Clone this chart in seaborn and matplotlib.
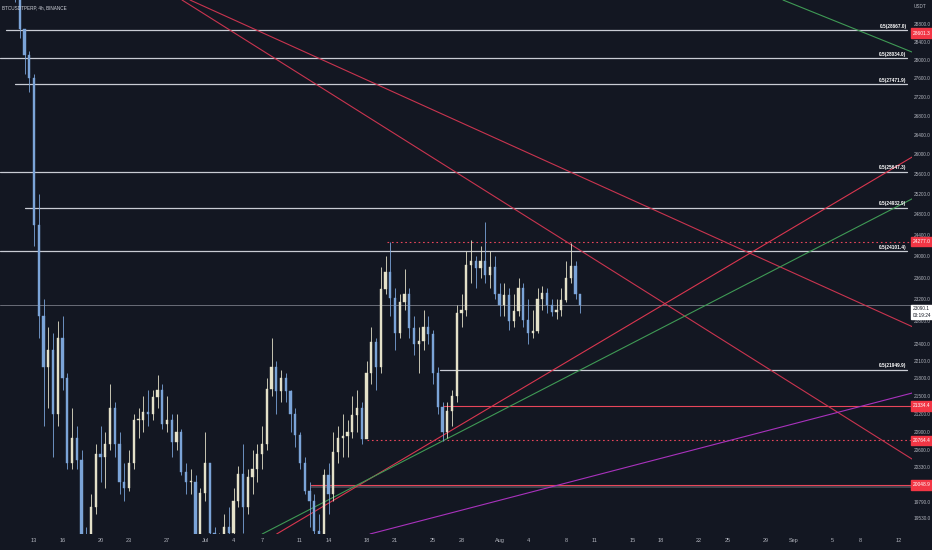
import numpy as np
import matplotlib
matplotlib.use("Agg")
import matplotlib.pyplot as plt
import matplotlib.transforms as mtransforms
from matplotlib.ticker import NullLocator
import seaborn as sns

# ---------------- data ----------------
# 12h candles; day numbers counted from 1 Jun 2022 = 0 (13 Jun = 12, 1 Jul = 30, 1 Aug = 61, 1 Sep = 92)
first_day = 9.0
first_open = 30100
closes = [30050, 29850, 29500, 28700, 28100, 27600, 24600, 22900, 22000, 22300,
          21200, 22500, 21800, 20400, 20800, 20450, 19200, 19000, 19700, 20550,
          20500, 20700, 21300, 20700, 20100, 20000, 20400, 21100, 21100, 21230,
          21200, 21490, 21600, 21030, 21100, 20730, 20900, 20250, 20100, 20100,
          19000, 19930, 20400, 19300, 19100, 19240, 19400, 19300, 19800, 20230,
          19700, 20170, 20300, 20550, 20700, 21620, 22000, 21590, 21800, 21590,
          21200, 20850, 20400, 19960, 19800, 19330, 19200, 20210, 19900, 20570,
          20800, 20830, 20900, 21190, 21300, 20780, 21900, 22430, 22000, 23390,
          23700, 23220, 22600, 23150, 23300, 22680, 22400, 22450, 22700, 22580,
          21900, 21310, 20900, 21250, 21500, 22950, 23000, 23840, 23900, 23780,
          23900, 23640, 23800, 23300, 23100, 23270, 22800, 22980, 23400, 22820,
          22600, 22620, 23200, 23310, 23100, 22960, 23000, 23180, 23600, 23810,
          23300, 23090]
highs = [30300, 30250, 29950, 29300, 28700, 28200, 27700, 25200, 23200, 22700,
         22600, 22800, 22900, 21900, 21300, 21000, 20600, 19400, 19900, 20700,
         21000, 20900, 21700, 21400, 20900, 20400, 20600, 21200, 21300, 21500,
         21600, 21600, 21860, 21700, 21500, 21200, 21200, 20950, 20400, 20300,
         20200, 20000, 20900, 20400, 19400, 19300, 19600, 19700, 20000, 20350,
         20700, 20300, 20600, 20700, 21000, 21800, 22500, 22100, 21950, 21900,
         21600, 21300, 20900, 20500, 20100, 19900, 19600, 20300, 20400, 20900,
         21000, 21200, 21100, 21500, 21600, 21400, 22100, 22700, 22500, 23800,
         24000, 24277, 23400, 23300, 23750, 23400, 22900, 22700, 23000, 22900,
         22650, 22000, 21400, 21400, 21600, 23100, 23300, 24100, 24300, 24000,
         24200, 24650, 24100, 24000, 23500, 23500, 23400, 23300, 23600, 23500,
         23200, 23000, 23400, 23450, 23400, 23200, 23200, 23400, 23900, 24250,
         23900, 23300]
lows = [29900, 29700, 29300, 28500, 27700, 27300, 24200, 22500, 21000, 21300,
        20500, 21000, 21600, 20300, 20300, 20300, 18900, 17600, 18600, 19600,
        20100, 20000, 20600, 20500, 19900, 19800, 19950, 20300, 20800, 20900,
        21000, 21100, 21300, 20950, 20900, 20500, 20600, 20200, 19900, 19900,
        18600, 18800, 19800, 19000, 18950, 19000, 18750, 19200, 19050, 19700,
        19300, 19600, 19900, 20100, 20300, 20600, 21500, 21200, 21400, 21400,
        20900, 20650, 20300, 19900, 19400, 19250, 18900, 19100, 19600, 19800,
        20400, 20500, 20500, 20800, 20900, 20700, 20800, 21700, 21600, 21900,
        23300, 22900, 22300, 22500, 23000, 22500, 22200, 21900, 22300, 22400,
        21700, 21200, 20760, 20800, 21000, 21400, 22700, 22900, 23500, 23400,
        23600, 23500, 23400, 23200, 22900, 22900, 22650, 22700, 22900, 22700,
        22400, 22500, 22600, 23000, 22950, 22900, 22850, 22900, 23150, 23500,
        23200, 22950]

# horizontal "0.5(...)" rays: price, start day
ray_prices = [28667.0, 28034.0, 27471.9, 25647.3, 24932.9, 24101.4, 21949.9]
ray_start = [9.05, 8.42, 10.0, 8.42, 11.05, 8.42, 54.75]

# red levels: price, start day, dotted?
red_prices = [24277.0, 21334.4, 20764.4, 20048.9]
red_start = [49.16, 55.05, 47.05, 41.16]
red_dotted = [True, False, True, False]

last_price = 23090.1
countdown = "03:19:24"
alert_price = 28601.3

# trend lines: (day0, price0, day1, price1)
trend_lines = {
    "red_down_a": (27.58, 29353, 104.42, 20462),
    "red_down_b": (28.42, 29353, 104.42, 22708),
    "red_up":     (37.54, 19291, 104.42, 25943),
    "green_up":   (36.02, 19291, 104.42, 25105),
    "purple_up":  (47.37, 19291, 104.42, 21551),
    "green_top":  (90.84, 29353, 104.42, 28177),
}
trend_colors = {
    "red_down_a": "#c9344f", "red_down_b": "#c9344f", "red_up": "#d9364f",
    "green_up": "#3f9a55", "purple_up": "#a932bd", "green_top": "#3f9a55",
}

x_tick_days = [12, 15, 19, 22, 26, 30, 33, 36, 40, 43, 47, 50, 54, 57,
               61, 64, 68, 71, 75, 78, 82, 85, 89, 92, 96, 99, 103]
x_tick_labels = ["13", "16", "20", "23", "27", "Jul", "4", "7", "11", "14", "18", "21", "25", "28",
                 "Aug", "4", "8", "11", "15", "18", "22", "25", "29", "Sep", "5", "8", "12"]

y_ticks = [28800, 28400, 28000, 27600, 27200, 26800, 26400, 26000, 25600, 25200,
           24800, 24400, 24000, 23600, 23200, 22800, 22400, 22100, 21800, 21500,
           21200, 20900, 20600, 20330, 19790, 19530]

# ---------------- style ----------------
BG = "#131722"
TXT = "#b2b5be"
UP = "#e4e1c9"
DOWN = "#7ba4d8"

sns.set_theme(style="dark", rc={"axes.facecolor": BG, "figure.facecolor": BG})
plt.rcParams["font.family"] = ["Liberation Sans", "DejaVu Sans"]

fig = plt.figure(figsize=(9.32, 5.5), dpi=100)
fig.patch.set_facecolor(BG)
ax = fig.add_axes([0, 16 / 550, 912 / 932, 534 / 550])
ax.set_facecolor(BG)

xmin, xmax = 8.42, 104.42
ymin, ymax = 19291, 29353
ax.set_yscale("log")
ax.set_xlim(xmin, xmax)
ax.set_ylim(ymin, ymax)

# candles
n = len(closes)
days = first_day + 0.5 * np.arange(n)
opens = [first_open] + closes[:-1]
for d, o, h, l, c in zip(days, opens, highs, lows, closes):
    col = UP if c >= o else DOWN
    ax.vlines(d, l, h, color=col, lw=0.6, zorder=3)
    lo, hi = min(o, c), max(o, c)
    if hi - lo < 15:
        hi = lo + 15
    ax.bar(d, hi - lo, bottom=lo, width=0.24, color=col, edgecolor=col, lw=0.3, zorder=4)

x_end = 8.42 + 907 / 9.5

# rays with labels
for p, s in zip(ray_prices, ray_start):
    ax.plot([s, x_end], [p, p], color="#c9ccd4", lw=0.9, zorder=2)
    ax.text(x_end - 0.05, p * 1.001, f"0.5({p:.1f})", ha="right", va="bottom",
            fontsize=3.4, color="#ffffff", fontweight="bold", zorder=6)

# red levels
for p, s, dt in zip(red_prices, red_start, red_dotted):
    ax.plot([s, xmax], [p, p], color="#e8465a", lw=0.8,
            ls=(0, (1.5, 2.5)) if dt else "-", zorder=2)
# grey band under last red level
ax.fill_between([red_start[-1], xmax], [red_prices[-1] * 0.9975] * 2, [red_prices[-1]] * 2,
                color="#4a4d58", alpha=0.8, lw=0, zorder=1)

# last price line
ax.axhline(last_price, color="#6a6d78", lw=0.7, zorder=2)

# trend lines
for key, (d0, p0, d1, p1) in trend_lines.items():
    sns.lineplot(x=[d0, d1], y=[p0, p1], ax=ax, color=trend_colors[key], lw=0.8,
                 zorder=2.5, legend=False, estimator=None, sort=False)

# axes look
for sp in ax.spines.values():
    sp.set_visible(False)
ax.grid(False)
ax.yaxis.tick_right()
ax.set_yticks(y_ticks)
ax.set_yticklabels([f"{t:.1f}" for t in y_ticks])
ax.yaxis.set_minor_locator(NullLocator())
ax.tick_params(axis="y", colors=TXT, labelsize=3.4, length=0, pad=1.2)
ax.set_xticks(x_tick_days)
ax.set_xticklabels(x_tick_labels)
ax.tick_params(axis="x", colors=TXT, labelsize=4.0, length=0, pad=2.8)
ax.set_xlabel("")
ax.set_ylabel("")

# right axis price boxes
tr = mtransforms.blended_transform_factory(ax.transAxes, ax.transData)
for p in [alert_price] + red_prices:
    ax.text(1.001, p, f"{p:.1f}", transform=tr, ha="left", va="center", fontsize=3.5,
            color="white", clip_on=False, zorder=10,
            bbox=dict(boxstyle="square,pad=0.45", fc="#f23645", ec="#f23645"))
ax.text(1.001, last_price * 0.9995, f"{last_price:.1f}\n{countdown}", transform=tr, ha="left", va="top",
        fontsize=3.4, color="#131722", clip_on=False, zorder=10, linespacing=1.5,
        bbox=dict(boxstyle="square,pad=0.3", fc="white", ec="white"))

fig.text(2 / 932, 1 - 8 / 550, "BTCUSDTPERP, 4h, BINANCE", fontsize=3.3, color="#d1d4dc", va="center")
fig.text(914 / 932, 1 - 7 / 550, "USDT", fontsize=3.4, color=TXT, va="center")

fig.savefig("out.png", dpi=100, facecolor=BG)
